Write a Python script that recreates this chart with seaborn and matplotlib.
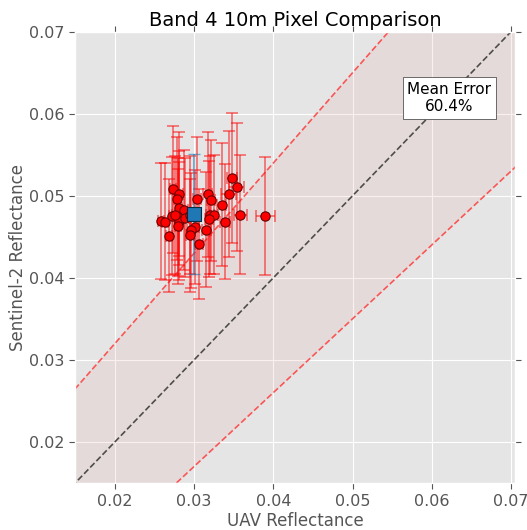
import matplotlib
matplotlib.use("Agg")
import matplotlib.pyplot as plt
import seaborn as sns
import numpy as np
import pandas as pd

# UAV vs Sentinel-2 reflectance per pixel
uav = [0.03481, 0.03535, 0.02730, 0.02805, 0.02785, 0.03037, 0.03170, 0.03208, 0.03434, 0.03346,
       0.02805, 0.02868, 0.02584, 0.02634, 0.02722, 0.02797, 0.02805, 0.02792, 0.02889, 0.02950,
       0.03195, 0.03254, 0.03182, 0.03389, 0.03585, 0.03900, 0.03015, 0.02965, 0.02952, 0.03153,
       0.02679, 0.03062, 0.02760]
s2 = [0.05219, 0.05109, 0.05077, 0.05023, 0.04967, 0.04962, 0.05016, 0.04946, 0.05020, 0.04893,
      0.04852, 0.04824, 0.04693, 0.04686, 0.04751, 0.04742, 0.04693, 0.04628, 0.04735, 0.04770,
      0.04763, 0.04771, 0.04714, 0.04686, 0.04771, 0.04754, 0.04620, 0.04580, 0.04518, 0.04588,
      0.04515, 0.04408, 0.04763]
uav_err = [0.0006, 0.0010, 0.0004, 0.0005, 0.0004, 0.0005, 0.0006, 0.0005, 0.0010, 0.0006,
           0.0004, 0.0005, 0.0004, 0.0004, 0.0004, 0.0004, 0.0005, 0.0004, 0.0005, 0.0005,
           0.0005, 0.0005, 0.0005, 0.0006, 0.0008, 0.0012, 0.0005, 0.0005, 0.0005, 0.0006,
           0.0004, 0.0005, 0.0004]
s2_err = [0.0079, 0.0078, 0.0077, 0.0076, 0.0075, 0.0076, 0.0076, 0.0074, 0.0077, 0.0075,
          0.0070, 0.0073, 0.0071, 0.0071, 0.0072, 0.0072, 0.0072, 0.0070, 0.0072, 0.0072,
          0.0072, 0.0073, 0.0071, 0.0070, 0.0073, 0.0072, 0.0070, 0.0070, 0.0069, 0.0070,
          0.0069, 0.0067, 0.0072]
mean_uav = 0.0300
mean_s2 = 0.0478
mean_uav_err = 0.0004
mean_s2_err = 0.0073
band_slope_hi, band_icpt_hi = 1.1, 0.01
band_slope_lo, band_icpt_lo = 0.9, -0.01
mean_error_text = "Mean Error\n60.4%"

plt.style.use("ggplot")
fig = plt.figure(figsize=(5.27, 5.30), dpi=100)
ax = fig.add_axes([0.143, 0.089, 0.834, 0.851])

lim_x = (0.015, 0.0705)
lim_y = (0.015, 0.07)
xs = np.linspace(0.0, 0.08, 50)
hi = band_slope_hi * xs + band_icpt_hi
lo = band_slope_lo * xs + band_icpt_lo
ax.fill_between(xs, lo, hi, color="#e8a0a0", alpha=0.15, lw=0, zorder=1)
ax.plot(xs, hi, ls="--", color="#ff3333", lw=1.2, alpha=0.8, zorder=2)
ax.plot(xs, lo, ls="--", color="#ff3333", lw=1.2, alpha=0.8, zorder=2)
ax.plot(xs, xs, ls="--", color="#333333", lw=1.2, alpha=0.85, zorder=2)

df = pd.DataFrame({"uav": uav, "s2": s2})
ax.errorbar(uav, s2, xerr=uav_err, yerr=s2_err, fmt="none", ecolor="red",
            alpha=0.5, capsize=4, elinewidth=1.3, capthick=1.3, zorder=3)
sns.scatterplot(data=df, x="uav", y="s2", ax=ax, color="red", edgecolor="#660000",
                s=45, linewidth=0.8, zorder=4)
ax.errorbar([mean_uav], [mean_s2], xerr=[mean_uav_err], yerr=[mean_s2_err], fmt="none",
            ecolor="#1f77b4", alpha=0.6, capsize=4, elinewidth=1.3, zorder=3.5)
sns.scatterplot(x=[mean_uav], y=[mean_s2], ax=ax, marker="s", color="#1f77b4",
                edgecolor="#0a2a40", s=100, linewidth=0.8, zorder=5)

ax.text(0.0622, 0.0619, mean_error_text, ha="center", va="center", fontsize=11,
        bbox=dict(boxstyle="square,pad=0.3", fc="white", ec="#333333"), zorder=6)

ax.set_xlim(*lim_x)
ax.set_ylim(*lim_y)
ax.set_xticks([0.02, 0.03, 0.04, 0.05, 0.06, 0.07])
ax.set_yticks([0.02, 0.03, 0.04, 0.05, 0.06, 0.07])
ax.tick_params(labelsize=11.5, colors="#555555", direction="out", top=True, right=True,
               length=4, pad=4)
ax.set_xlabel("UAV Reflectance", fontsize=12, color="#555555", labelpad=2)
ax.set_ylabel("Sentinel-2 Reflectance", fontsize=12, color="#555555", labelpad=1)
ax.set_title("Band 4 10m Pixel Comparison", fontsize=14, color="black", pad=4)

fig.savefig("out.png", dpi=100)
